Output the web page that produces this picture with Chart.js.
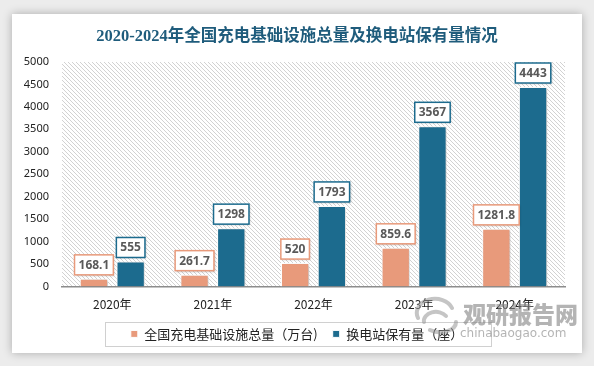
<!DOCTYPE html>
<html>
<head>
<meta charset="utf-8">
<script src="https://cdn.jsdelivr.net/npm/chart.js@4.4.1/dist/chart.umd.min.js"></script>
<style>
  html, body { margin: 0; padding: 0; }
  body { width: 594px; height: 366px; background: #ececec; position: relative; overflow: hidden; }
  #card { position: absolute; left: 12px; top: 14px; width: 570px; height: 339px; background: #fff;
          box-shadow: 0 0 9px rgba(0,0,0,0.28); }
  .wm { position: absolute; color: rgba(130,130,130,0.6); font-family: "Noto Sans CJK SC", sans-serif; white-space: nowrap; line-height: 1; }
</style>
</head>
<body>
<div id="card"><canvas id="myChart"></canvas></div>
<svg class="wm" style="left:412px; top:296px;" width="48" height="40" viewBox="0 0 48 40">
  <g fill="none" stroke="rgba(150,150,150,0.55)" stroke-width="4" stroke-linecap="round">
    <path d="M6 22 A18 14 0 0 1 40 12"/>
    <path d="M12 26 A12 9 0 0 1 34 20"/>
    <path d="M18 34 A16 10 0 0 0 44 26"/>
  </g>
</svg>
<div class="wm" style="left:463px; top:302px; font-size:23px; font-weight:900;">观研报告网</div>
<div class="wm" style="left:460px; top:327px; font-size:12px; font-family:'DejaVu Sans',sans-serif;">chinabaogao.com</div>
<script>
const categorias = ['2020年', '2021年', '2022年', '2023年', '2024年'];
const facilidades = [168.1, 261.7, 520, 859.6, 1281.8];
const estaciones = [555, 1298, 1793, 3567, 4443];
const ejeMax = 5000;
const ejePaso = 500;

const naranja = '#E89A7B';
const azul = '#1C6B8E';

// fondo rayado del area de dibujo
const rayado = {
  id: 'rayado',
  beforeDraw(chart) {
    const { ctx, chartArea: a } = chart;
    const p = document.createElement('canvas');
    p.width = 4; p.height = 4;
    const pc = p.getContext('2d');
    pc.fillStyle = '#d2d2d2';
    for (let i = 0; i < 4; i++) pc.fillRect(i, i, 1, 1);
    ctx.save();
    ctx.fillStyle = ctx.createPattern(p, 'repeat');
    ctx.fillRect(a.left, a.top, a.right - a.left, a.bottom - a.top);
    ctx.restore();
  },
  beforeDatasetsDraw(chart) {
    const ctx = chart.ctx;
    ctx.save();
    ctx.shadowColor = 'rgba(0,0,0,0.25)';
    ctx.shadowBlur = 3;
    ctx.shadowOffsetX = 1.5;
    ctx.shadowOffsetY = 1;
  },
  afterDatasetsDraw(chart) {
    chart.ctx.restore();
  }
};

// etiquetas con caja encima de cada barra
const etiquetas = {
  id: 'etiquetas',
  afterDatasetsDraw(chart) {
    const ctx = chart.ctx;
    ctx.save();
    ctx.font = 'bold 12px "Noto Sans", sans-serif';
    ctx.textAlign = 'center';
    ctx.textBaseline = 'middle';
    chart.data.datasets.forEach((ds, i) => {
      const meta = chart.getDatasetMeta(i);
      meta.data.forEach((bar, j) => {
        const txt = String(ds.data[j]);
        const w = ctx.measureText(txt).width + 8;
        const h = 20;
        const x = bar.x - w / 2;
        const y = bar.y - 4 - h;
        ctx.save();
        ctx.shadowColor = 'rgba(0,0,0,0.2)';
        ctx.shadowBlur = 2;
        ctx.shadowOffsetX = 1;
        ctx.shadowOffsetY = 1;
        ctx.fillStyle = '#fff';
        ctx.fillRect(x, y, w, h);
        ctx.restore();
        ctx.strokeStyle = ds.backgroundColor;
        ctx.lineWidth = 1.5;
        ctx.strokeRect(x, y, w, h);
        ctx.fillStyle = '#595959';
        ctx.fillText(txt, bar.x, y + h / 2 + 0.5);
      });
    });
    ctx.restore();
  }
};

// marco de la leyenda
const marcoLeyenda = {
  id: 'marcoLeyenda',
  afterDraw(chart) {
    const lg = chart.legend;
    if (!lg || !lg.legendHitBoxes.length) return;
    const hb = lg.legendHitBoxes;
    const izq = Math.min(...hb.map(b => b.left)) - 26;
    const der = Math.max(...hb.map(b => b.left + b.width)) + 28;
    const cy = hb[0].top + hb[0].height / 2;
    const ctx = chart.ctx;
    ctx.save();
    ctx.strokeStyle = '#d0d0d0';
    ctx.lineWidth = 1;
    ctx.strokeRect(Math.round(izq) + 0.5, Math.round(cy - 12) + 0.5, Math.round(der - izq), 24);
    ctx.restore();
  }
};

const ctx = document.getElementById('myChart');
new Chart(ctx, {
  type: 'bar',
  data: {
    labels: categorias,
    datasets: [
      {
        label: '全国充电基础设施总量（万台)',
        data: facilidades,
        backgroundColor: naranja,
        borderColor: '#ffffff',
        borderWidth: 1,
        categoryPercentage: 0.73,
        barPercentage: 0.77
      },
      {
        label: '换电站保有量（座）',
        data: estaciones,
        backgroundColor: azul,
        borderColor: '#ffffff',
        borderWidth: 1,
        categoryPercentage: 0.73,
        barPercentage: 0.77
      }
    ]
  },
  options: {
    responsive: true,
    maintainAspectRatio: false,
    animation: false,
    layout: { padding: { left: 0, right: 0, top: 0, bottom: 2.6 } },
    plugins: {
      title: {
        display: true,
        text: '2020-2024年全国充电基础设施总量及换电站保有量情况',
        color: '#1F5C7C',
        font: { family: '"Liberation Serif", "Noto Sans CJK SC", serif', size: 16.5, weight: 'bold' },
        padding: { top: 13, bottom: 15.2 }
      },
      legend: {
        position: 'bottom',
        labels: {
          boxWidth: 7,
          boxHeight: 7,
          padding: 15,
          color: '#222',
          font: { family: '"Noto Sans CJK SC", sans-serif', size: 13 }
        }
      },
      tooltip: { enabled: false }
    },
    scales: {
      x: {
        grid: { display: false, drawTicks: false },
        border: { display: true, color: '#8c8c8c', width: 1.5 },
        ticks: {
          color: '#222',
          padding: 11,
          font: { family: '"Noto Sans CJK SC", sans-serif', size: 12 }
        },
        afterFit(s) { s.height = 26; }
      },
      y: {
        min: 0,
        max: ejeMax,
        grid: { display: false, drawTicks: false },
        border: { display: false },
        ticks: {
          stepSize: ejePaso,
          color: '#222',
          padding: 13,
          font: { family: '"Noto Sans", sans-serif', size: 11 },
          callback: v => String(v)
        },
        afterFit(s) { s.width = 50; }
      },
      // margen derecho vacio
      yDer: {
        position: 'right',
        grid: { display: false, drawTicks: false },
        border: { display: false },
        ticks: { display: false },
        afterFit(s) { s.width = 17; }
      }
    }
  },
  plugins: [rayado, etiquetas, marcoLeyenda]
});
</script>
</body>
</html>
